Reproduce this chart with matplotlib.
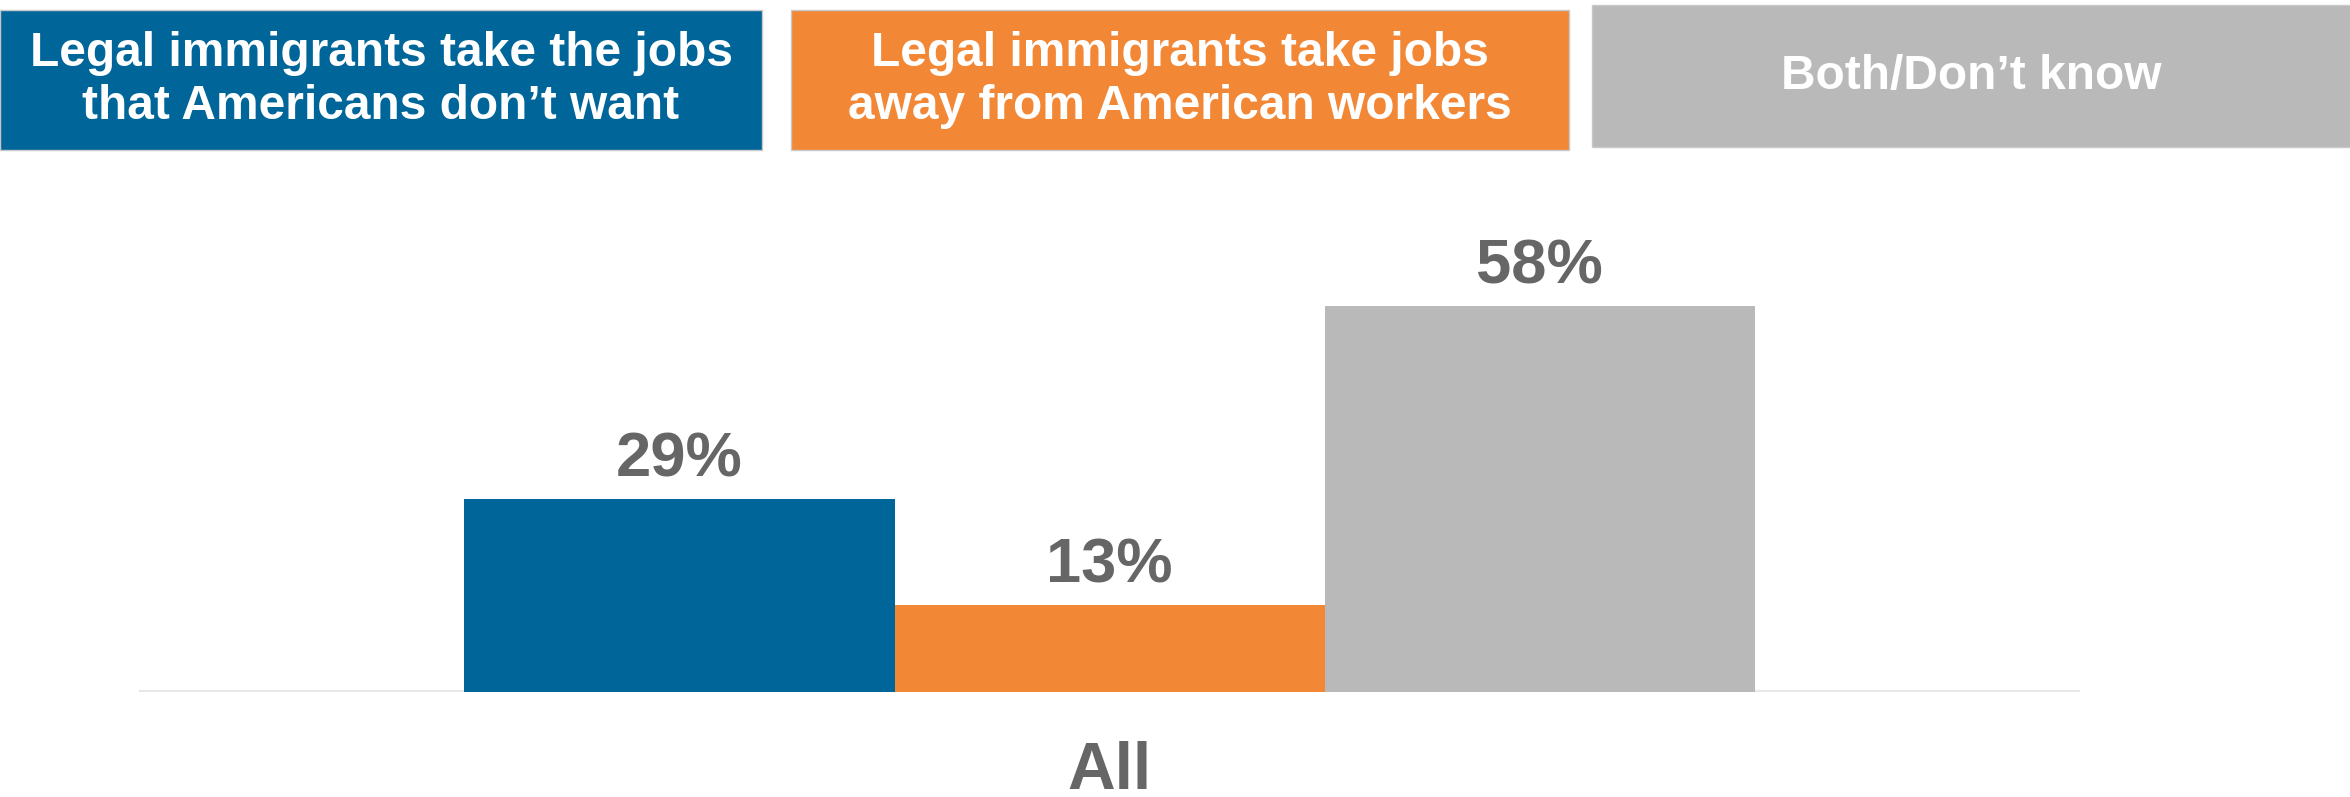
import matplotlib
matplotlib.use("Agg")
import matplotlib.pyplot as plt
from matplotlib.patches import Rectangle

plt.rcParams["font.family"] = ["Liberation Sans", "DejaVu Sans"]

category = ["All"]
series = [
    "Legal immigrants take the jobs\nthat Americans don\u2019t want",
    "Legal immigrants take jobs\naway from American workers",
    "Both/Don\u2019t know",
]
values = [29, 13, 58]
colors = ["#00669A", "#F28736", "#B9B9B9"]
label_color = "#666666"

W, H = 2350, 797
fig = plt.figure(figsize=(W / 100, H / 100), dpi=100)

# axes placed so baseline sits near y=692px, spanning x 139..2080px
ymax = 70
px_per_unit = 6.66
ax_h = ymax * px_per_unit
ax = fig.add_axes([139 / W, (H - 692) / H, 1941 / W, ax_h / H])

bw = 0.8 / 3
for i, (v, c) in enumerate(zip(values, colors)):
    x = (i - 1) * bw
    ax.bar(x, v, width=bw, color=c, align="center", zorder=2)
    ax.text(x, v + 3.4, f"{v}%", ha="center", va="baseline",
            fontsize=45.5, fontweight="bold", color=label_color)

half = (1941 / 2) / 430 * bw
ax.set_xlim(-half, half)
ax.set_ylim(0, ymax)
ax.axhline(0, color="#E8E8E8", lw=3, zorder=1)
ax.set_xticks([0])
ax.set_xticklabels(category)
ax.tick_params(axis="x", length=0, pad=35, labelsize=47.5, labelcolor=label_color)
for lbl in ax.get_xticklabels():
    lbl.set_fontweight("bold")
ax.set_yticks([])
for s in ax.spines.values():
    s.set_visible(False)

# legend boxes along the top
boxes = [(0, 10, 762, 150), (791, 10, 1569, 150), (1592, 5, 2350, 147)]
for (x0, y0, x1, y1), name, c in zip(boxes, series, colors):
    fig.patches.append(Rectangle((x0 / W, 1 - y1 / H), (x1 - x0) / W, (y1 - y0) / H,
                                 transform=fig.transFigure, facecolor=c,
                                 edgecolor="#C8C8C8", lw=1))
    fig.text((x0 + x1) / 2 / W, 1 - (y0 + y1) / 2 / H, name, ha="center", va="center",
             fontsize=34.5, fontweight="bold", color="white", linespacing=1.25)

fig.savefig("out.png", dpi=100)
